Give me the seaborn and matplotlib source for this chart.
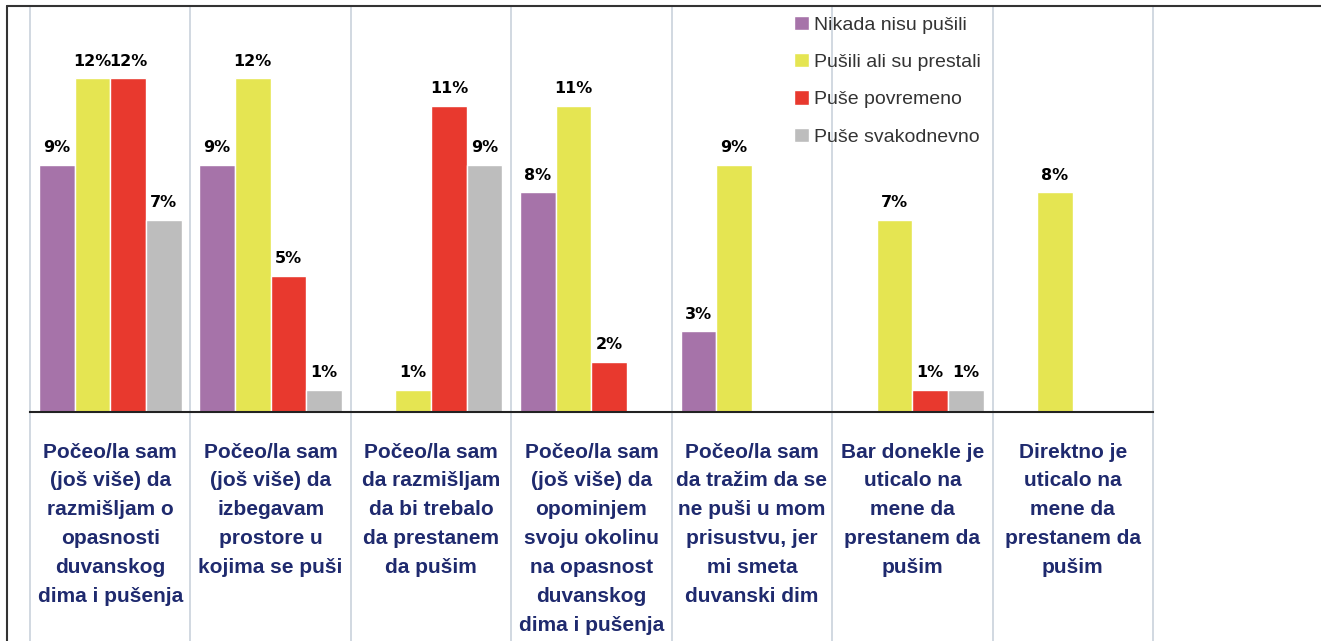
import seaborn as sns
import matplotlib.pyplot as plt
import pandas as pd
import numpy as np
from matplotlib.lines import Line2D

sns.set_theme(style='white')
plt.rcParams['font.family'] = ['Liberation Sans', 'DejaVu Sans']

categories = [
    'Počeo/la sam\n(još više) da\nrazmišljam o\nopasnosti\nduvanskog\ndima i pušenja',
    'Počeo/la sam\n(još više) da\nizbegavam\nprostore u\nkojima se puši',
    'Počeo/la sam\nda razmišljam\nda bi trebalo\nda prestanem\nda pušim',
    'Počeo/la sam\n(još više) da\nopominjem\nsvoju okolinu\nna opasnost\nduvanskog\ndima i pušenja',
    'Počeo/la sam\nda tražim da se\nne puši u mom\nprisustvu, jer\nmi smeta\nduvanski dim',
    'Bar donekle je\nuticalo na\nmene da\nprestanem da\npušim',
    'Direktno je\nuticalo na\nmene da\nprestanem da\npušim',
]
groups = ['Nikada nisu pušili', 'Pušili ali su prestali', 'Puše povremeno', 'Puše svakodnevno']
# 0 = no answer in that group (no bar, no label)
nikada = [8.9, 8.9, 0, 7.9, 2.9, 0, 0]
prestali = [12.0, 12.0, 0.8, 11.0, 8.9, 6.9, 7.9]
povremeno = [12.0, 4.9, 11.0, 1.8, 0, 0.8, 0]
svakodnevno = [6.9, 0.8, 8.9, 0, 0, 0.8, 0]
colors = ['#A673A9', '#E5E552', '#E8392E', '#BDBDBD']

rows = []
for g, vals in zip(groups, [nikada, prestali, povremeno, svakodnevno]):
    for i, v in enumerate(vals):
        rows.append({'cat': i, 'group': g, 'val': v})
df = pd.DataFrame(rows)

fig = plt.figure(figsize=(13.21, 6.41), dpi=100)
W, H = 1321, 641
ax = fig.add_axes([30 / W, (H - 412) / H, (1153 - 30) / W, (412 - 6) / H])

sns.barplot(data=df, x='cat', y='val', hue='group', hue_order=groups,
            palette=colors, width=0.89, gap=0, saturation=1, ax=ax, errorbar=None)

for cont, vals in zip(ax.containers, [nikada, prestali, povremeno, svakodnevno]):
    labels = ['' if v == 0 else '%.0f%%' % v for v in vals]
    ax.bar_label(cont, labels=labels, padding=7, fontsize=11.5, fontweight='heavy',
                 family=['DejaVu Sans'], color='black')

ax.set_xlim(-0.5, 6.5)
ax.set_ylim(0, 14.6)
ax.set_yticks([])
ax.set_xlabel('')
ax.set_ylabel('')
for s in ['top', 'right', 'left']:
    ax.spines[s].set_visible(False)
ax.spines['bottom'].set_color('#222222')
ax.spines['bottom'].set_linewidth(1.5)

ax.set_xticks(range(7))
ax.set_xticklabels(categories, fontsize=15, fontweight='bold', color='#1F2A6E',
                   linespacing=1.66, va='top')
ax.tick_params(axis='x', which='major', length=0, pad=22)
ax.set_xticks(np.arange(-0.5, 7.0, 1.0), minor=True)
ax.tick_params(axis='x', which='minor', length=6, width=1.5, color='#222222', direction='out')

axh = (412 - 6)
for b in np.arange(-0.5, 7.0, 1.0):
    ax.axvline(b, ymin=-(H - 412) / axh, ymax=1, color='#C9D2DC', lw=1.2,
               clip_on=False, zorder=0)

leg = ax.legend(loc='upper left', bbox_to_anchor=(0.672, 1.0), frameon=False,
                fontsize=14, labelspacing=1.0, handlelength=0.75, handleheight=0.75,
                handletextpad=0.25, borderaxespad=0.1)
for t in leg.get_texts():
    t.set_color('#333333')

fig.add_artist(Line2D([7 / W, 1], [(H - 6) / H, (H - 6) / H], color='#333333', lw=1.5))
fig.add_artist(Line2D([7 / W, 7 / W], [0, (H - 6) / H], color='#333333', lw=1.5))

fig.savefig('out.png', dpi=100)
